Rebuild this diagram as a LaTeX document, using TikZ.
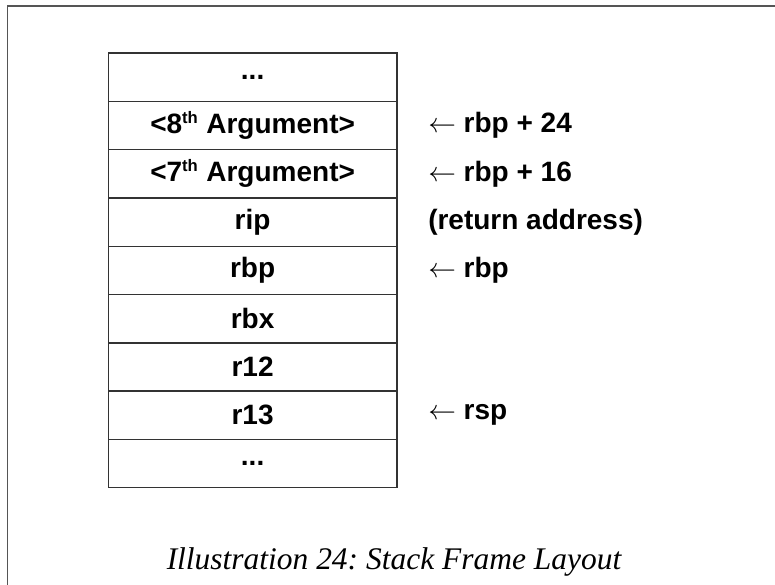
\documentclass[tikz,border=0pt]{standalone}
\usepackage{fontspec}
\setmainfont{Liberation Serif}
\newfontfamily\cellfont{Liberation Sans}
\usepackage{tikz}
\usetikzlibrary{calc}
\frenchspacing

\newcommand{\nth}[1]{#1\textsuperscript{\fontsize{12.5}{12.5}\selectfont th}}

\tikzset{
  cell/.style={draw={rgb,255:red,51;green,51;blue,51}, line width=1pt, minimum width=216.5pt, minimum height=36.2pt, inner sep=0pt, font=\fontsize{21}{24}\cellfont\bfseries},
  note/.style={anchor=west, inner sep=0pt, font=\fontsize{21}{24}\cellfont\bfseries},
}

\begin{document}
\begin{tikzpicture}[x=0.75pt,y=0.75pt,yscale=-1,xscale=1]
%set diagram left start at 0, and has height of 585
\path[use as bounding box] (0,0) rectangle (775,585);

%Frame lines
\draw [color={rgb, 255:red, 85; green, 85; blue, 85 }, line width=1.1pt]  (7.3,585) -- (7.3,6) -- (775,6) ;

% Stack cells
\node [cell] (dotsTop) at (252.6,77.2) {...};
\node [cell] (argEight) at (252.6,125.5) {<\nth{8} Argument>};
\node [cell] (argSeven) at (252.6,173.8) {<\nth{7} Argument>};
\node [cell] (rip) at (252.6,222.1) {rip};
\node [cell] (rbp) at (252.6,270.4) {rbp};
\node [cell] (rbx) at (252.6,318.7) {rbx};
\node [cell] (rTwelve) at (252.6,367) {r12};
\node [cell] (rThirteen) at (252.6,415.3) {r13};
\node [cell] (dotsBot) at (252.6,463.6) {...};

% Text Node
\node [note] (offEight) at (428,125.5) {$\leftarrow$ rbp + 24};
% Text Node
\node [note] (offSeven) at (428,173.8) {$\leftarrow$ rbp + 16};
% Text Node
\node [note] (retAddr) at (428,222.1) {(return address)};
% Text Node
\node [note] (basePtr) at (428,270.4) {$\leftarrow$ rbp};
% Text Node
\node [note] (stackPtr) at (428,415.3) {$\leftarrow$ rsp};

% Caption
\node [font=\fontsize{23.6}{27}\selectfont\itshape, inner sep=0pt] (caption) at (394,562) {Illustration 24: Stack Frame Layout};

\end{tikzpicture}
\end{document}
